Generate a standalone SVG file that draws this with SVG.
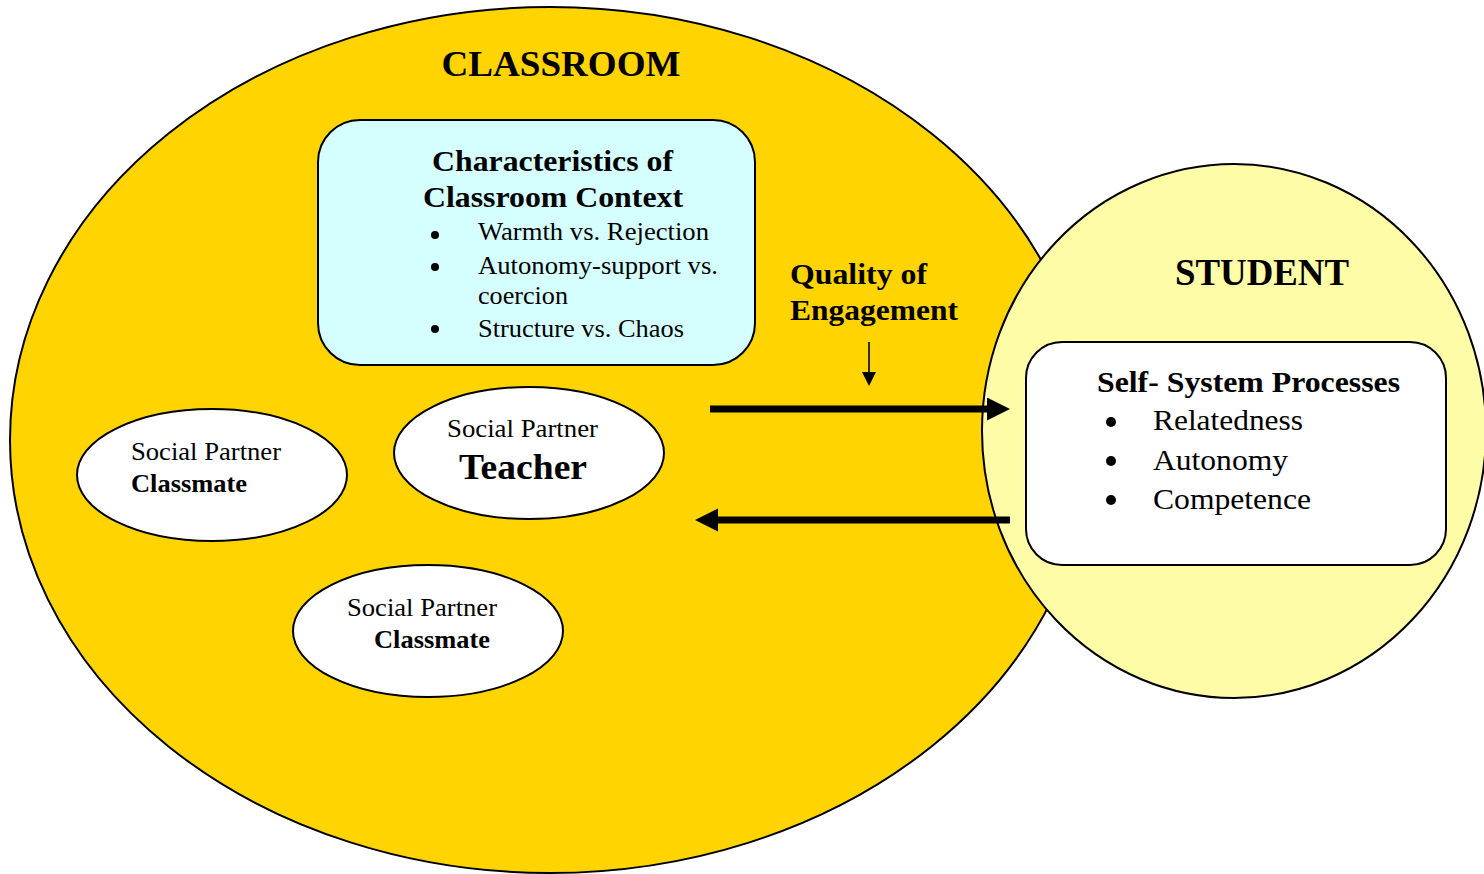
<svg xmlns="http://www.w3.org/2000/svg" width="1484" height="874" viewBox="0 0 1484 874">
<style>
  .serif { font-family: "Liberation Serif", "Times New Roman", serif; fill: #000; }
  .b { font-weight: bold; }
  .shape { stroke: #000; stroke-width: 2; }
  .partner { fill: #fff; stroke: #000; stroke-width: 2; }
  .thick { stroke: #000; stroke-width: 7; fill: none; }
  .thin { stroke: #000; stroke-width: 1.6; fill: none; }
</style>
<defs>
  <marker id="bigHead" markerUnits="userSpaceOnUse" markerWidth="24" markerHeight="24" refX="3" refY="11.5" orient="auto">
    <path d="M0,0 L23,11.5 L0,23 Z" fill="#000"/>
  </marker>
  <marker id="smallHead" markerUnits="userSpaceOnUse" markerWidth="16" markerHeight="16" refX="2" refY="7" orient="auto">
    <path d="M0,0 L14,7 L0,14 Z" fill="#000"/>
  </marker>
</defs>
<rect width="1484" height="874" fill="#fff"/>

<g id="classroom">
  <ellipse class="shape" cx="550" cy="440" rx="540" ry="433" fill="#FFD400"/>
  <text class="serif b" x="561" y="76" font-size="36" text-anchor="middle" textLength="239" lengthAdjust="spacingAndGlyphs">CLASSROOM</text>
</g>

<g id="student">
  <ellipse class="shape" cx="1234" cy="431" rx="252" ry="267" fill="#FFFCA8"/>
  <text class="serif b" x="1262" y="285" font-size="37" text-anchor="middle" textLength="174" lengthAdjust="spacingAndGlyphs">STUDENT</text>
</g>

<g id="connectors">
  <line class="thick" x1="710" y1="409" x2="990" y2="409" marker-end="url(#bigHead)"/>
  <line class="thick" x1="1010" y1="520" x2="715" y2="520" marker-end="url(#bigHead)"/>
  <line class="thin" x1="869" y1="342" x2="869" y2="374" marker-end="url(#smallHead)"/>
</g>

<g id="quality-label">
  <text class="serif b" x="790" y="284" font-size="30" textLength="137" lengthAdjust="spacingAndGlyphs">Quality of</text>
  <text class="serif b" x="790" y="320" font-size="30" textLength="168" lengthAdjust="spacingAndGlyphs">Engagement</text>
</g>

<g id="context">
  <rect class="shape" x="318" y="120" width="437" height="245" rx="42" ry="42" fill="#D5FFFF"/>
  <text class="serif b" x="432" y="171" font-size="30" textLength="241" lengthAdjust="spacingAndGlyphs">Characteristics of</text>
  <text class="serif b" x="423" y="207" font-size="30" textLength="260" lengthAdjust="spacingAndGlyphs">Classroom Context</text>
  <circle cx="435" cy="235" r="4"/>
  <circle cx="435" cy="267" r="4"/>
  <circle cx="435" cy="329" r="4"/>
  <text class="serif" x="478" y="240" font-size="25" textLength="231" lengthAdjust="spacingAndGlyphs">Warmth vs. Rejection</text>
  <text class="serif" x="478" y="274" font-size="25" textLength="240" lengthAdjust="spacingAndGlyphs">Autonomy-support vs.</text>
  <text class="serif" x="478" y="304" font-size="25" textLength="90" lengthAdjust="spacingAndGlyphs">coercion</text>
  <text class="serif" x="478" y="337" font-size="25" textLength="206" lengthAdjust="spacingAndGlyphs">Structure vs. Chaos</text>
</g>

<g id="classmate-left">
  <ellipse class="partner" cx="212" cy="475" rx="135" ry="66"/>
  <text class="serif" x="131" y="460" font-size="25" textLength="150" lengthAdjust="spacingAndGlyphs">Social Partner</text>
  <text class="serif b" x="131" y="492" font-size="25" textLength="116" lengthAdjust="spacingAndGlyphs">Classmate</text>
</g>

<g id="teacher">
  <ellipse class="partner" cx="529" cy="453" rx="135" ry="66"/>
  <text class="serif" x="447" y="437" font-size="25" textLength="151" lengthAdjust="spacingAndGlyphs">Social Partner</text>
  <text class="serif b" x="459" y="479" font-size="36" textLength="128" lengthAdjust="spacingAndGlyphs">Teacher</text>
</g>

<g id="classmate-bottom">
  <ellipse class="partner" cx="428" cy="631" rx="135" ry="66"/>
  <text class="serif" x="347" y="616" font-size="25" textLength="150" lengthAdjust="spacingAndGlyphs">Social Partner</text>
  <text class="serif b" x="374" y="648" font-size="25" textLength="116" lengthAdjust="spacingAndGlyphs">Classmate</text>
</g>

<g id="self-system">
  <rect class="shape" x="1026" y="342" width="420" height="223" rx="36" ry="36" fill="#fff"/>
  <text class="serif b" x="1097" y="392" font-size="30" textLength="303" lengthAdjust="spacingAndGlyphs">Self- System Processes</text>
  <circle cx="1111" cy="422" r="5"/>
  <circle cx="1111" cy="461" r="5"/>
  <circle cx="1111" cy="500" r="5"/>
  <text class="serif" x="1153" y="430" font-size="30" textLength="150" lengthAdjust="spacingAndGlyphs">Relatedness</text>
  <text class="serif" x="1153" y="470" font-size="30" textLength="135" lengthAdjust="spacingAndGlyphs">Autonomy</text>
  <text class="serif" x="1153" y="509" font-size="30" textLength="158" lengthAdjust="spacingAndGlyphs">Competence</text>
</g>
</svg>
